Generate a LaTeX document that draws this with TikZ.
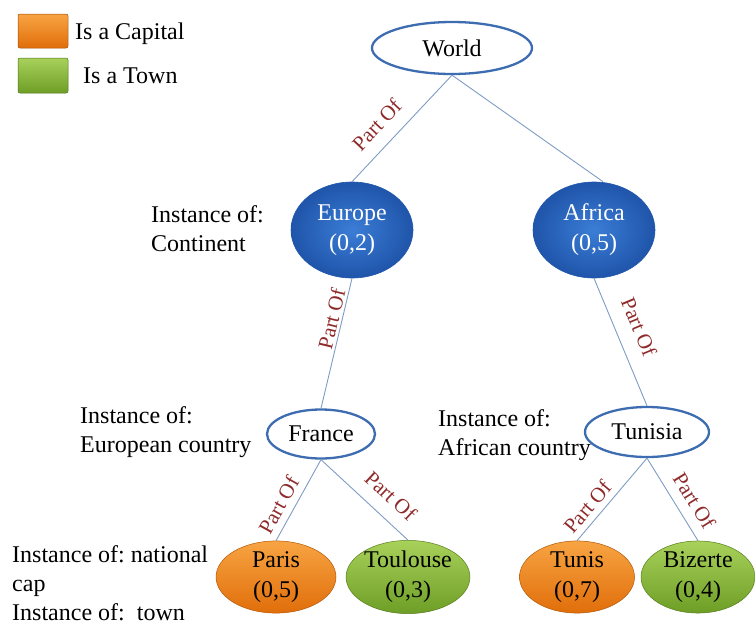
\documentclass[tikz,border=0pt]{standalone}
\usepackage{fontspec}
\setmainfont{Liberation Serif}
\usetikzlibrary{shapes.geometric,calc}

\definecolor{edgeblue}{HTML}{7F9CC4}
\definecolor{ringblue}{HTML}{3D6DB0}
\definecolor{labelred}{HTML}{8E2A2A}
\definecolor{contin}{HTML}{3B7DD6}
\definecolor{continedge}{HTML}{1F55AA}
\definecolor{capA}{HTML}{F8A443}
\definecolor{capB}{HTML}{E06E0A}
\definecolor{townA}{HTML}{A8D15A}
\definecolor{townB}{HTML}{6E9E26}

\tikzset{
  txt/.style={font=\fontsize{24}{29}\selectfont, inner sep=0pt},
  ring/.style={ellipse, draw=ringblue, line width=2.3pt, fill=white,
    inner sep=0pt, font=\fontsize{24}{28}\selectfont},
  continent/.style={ellipse, draw=continedge, line width=0.6pt,
    inner color=contin, outer color=continedge,
    text=white, align=center, inner sep=0pt, minimum width=122pt,
    minimum height=96pt, font=\fontsize{24}{30}\selectfont},
  capital/.style={ellipse, draw=capB!80!black, line width=0.5pt,
    top color=capA, bottom color=capB, align=center, inner sep=0pt,
    minimum height=70pt, font=\fontsize{24}{30}\selectfont},
  town/.style={ellipse, draw=townB!80!black, line width=0.5pt,
    top color=townA, bottom color=townB, align=center, inner sep=0pt,
    minimum height=70pt, font=\fontsize{24}{30}\selectfont},
  link/.style={draw=edgeblue, line width=0.9pt},
  partof/.style={sloped, above, inner sep=6pt, text=labelred,
    font=\fontsize{21}{24}\selectfont},
}

\begin{document}
\begin{tikzpicture}[x=1pt,y=-1pt]
\useasboundingbox (0,0) rectangle (755,624);

% legend
\node[draw=capB!70!black, line width=0.5pt, rounded corners=2pt,
  top color=capA, bottom color=capB, minimum width=50pt, minimum height=34pt,
  inner sep=0pt] (capkey) at (43,31) {};
\node[draw=townB!70!black, line width=0.5pt, rounded corners=2pt,
  top color=townA, bottom color=townB, minimum width=50pt, minimum height=35pt,
  inner sep=0pt] (townkey) at (43,75.5) {};
\node[txt, anchor=base west] (captext) at (75,39) {Is a Capital};
\node[txt, anchor=base west] (towntext) at (83,83) {Is a Town};

% concept nodes
\node[ring, minimum width=160pt, minimum height=52pt] (world) at (452,48) {World};
\node[continent] (europe) at (352,230) {Europe\\(0,2)};
\node[continent] (africa) at (594,230) {Africa\\(0,5)};
\node[ring, minimum width=108pt, minimum height=49pt] (france) at (321,434) {France};
\node[ring, minimum width=124pt, minimum height=50pt] (tunisia) at (647,432) {Tunisia};
\node[capital, minimum width=120pt] (paris) at (276,577) {Paris\\(0,5)};
\node[town, minimum width=122pt] (toulouse) at (408,577) {Toulouse\\(0,3)};
\node[capital, minimum width=115pt] (tunis) at (577,577) {Tunis\\(0,7)};
\node[town, minimum width=114pt] (bizerte) at (698,577) {Bizerte\\(0,4)};

% instance annotations
\node[txt, align=left, anchor=north west] (instcont) at (151,205.5) {Instance of:\\Continent};
\node[txt, align=left, anchor=north west] (insteu) at (80,406) {Instance of:\\European country};
\node[txt, align=left, anchor=north west] (instaf) at (438,409) {Instance of:\\African country};
\node[txt, align=left, anchor=north west] (instcity) at (12,545) {Instance of:\ national\\cap\\Instance of:\ \ town};

% part-of links
\draw[link] (world.south) -- node[partof, pos=0.6, inner sep=13pt] {Part Of} (europe.north);
\draw[link] (world.south) -- ($(africa.north)+(9,0)$);
\draw[link] (europe.south) -- node[partof, pos=0.33, inner sep=2.5pt] {Part Of} (france.north);
\draw[link] (africa.south) -- node[partof, pos=0.45, inner sep=15pt] {Part Of} (tunisia.north);
\draw[link] (france.south) -- node[partof, pos=0.65, inner sep=7pt] {Part Of} (paris.north);
\draw[link] (france.south) -- node[partof, pos=0.64, inner sep=13pt] {Part Of} (toulouse.north);
\draw[link] (tunisia.south) -- node[partof, pos=0.7, inner sep=6pt] {Part Of} (tunis.north);
\draw[link] (tunisia.south) -- node[partof, pos=0.63, inner sep=10pt] {Part Of} (bizerte.north);
\end{tikzpicture}
\end{document}
